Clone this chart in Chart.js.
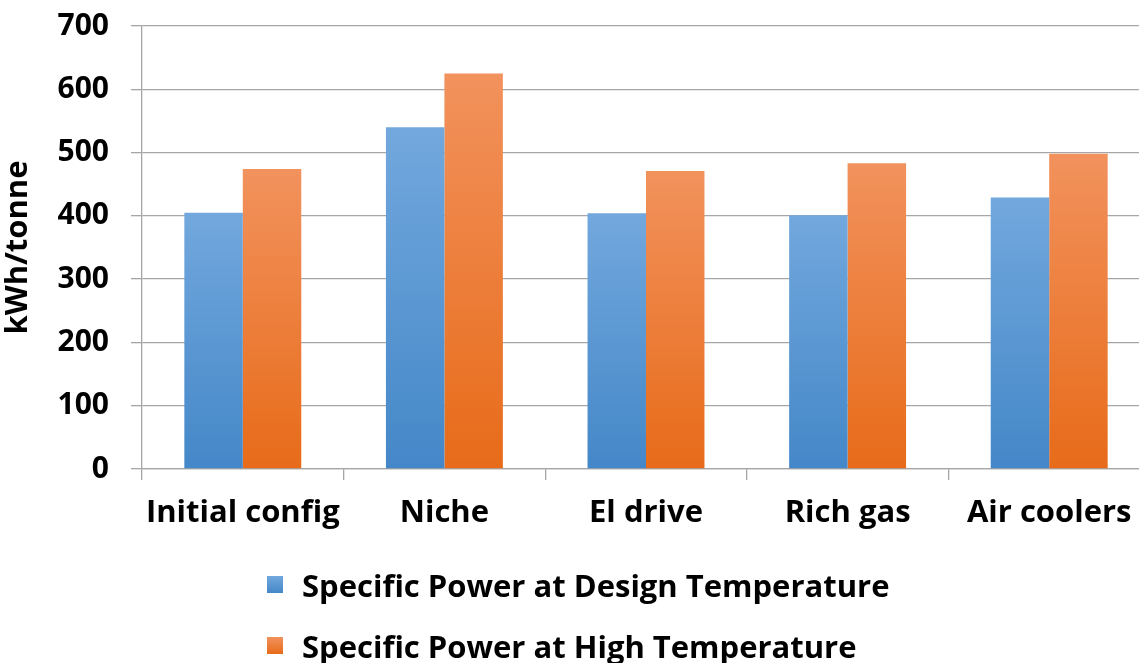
<!DOCTYPE html>
<html>
<head>
<meta charset="utf-8">
<script src="https://cdn.jsdelivr.net/npm/chart.js@4/dist/chart.umd.min.js"></script>
<style>
  html, body { margin: 0; padding: 0; background: #fff; overflow: hidden; }
  #wrap { position: relative; width: 1150px; height: 560px; }
  #legend { position: absolute; left: 267px; top: 554px; font-family: "Open Sans", sans-serif; font-weight: 700; font-size: 31px; color: #000; }
  .item { display: flex; align-items: center; height: 61px; }
  .box { width: 16px; height: 17px; margin-right: 19px; }
</style>
</head>
<body>
<div id="wrap"><canvas id="c" width="1150" height="560"></canvas></div>
<div id="legend"></div>
<script>
const categories = ['Initial config', 'Niche', 'El drive', 'Rich gas', 'Air coolers'];
const designTemp = [405, 540, 404, 401, 429];
const highTemp = [474, 625, 471, 483, 498];
const seriesNames = ['Specific Power at Design Temperature', 'Specific Power at High Temperature'];
const yTicks = [0, 100, 200, 300, 400, 500, 600, 700];

const palettes = [
  { top: '#72a8dd', bottom: '#4487c8' },
  { top: '#f2925d', bottom: '#e76b19' }
];

const FONT = '"Open Sans", sans-serif';

function barGradient(idx) {
  return (ctx) => {
    const chart = ctx.chart;
    if (!chart.chartArea || ctx.raw == null) return palettes[idx].bottom;
    const y = chart.scales.y;
    const top = y.getPixelForValue(ctx.raw);
    const bot = y.getPixelForValue(0);
    const g = chart.ctx.createLinearGradient(0, top, 0, bot);
    g.addColorStop(0, palettes[idx].top);
    g.addColorStop(1, palettes[idx].bottom);
    return g;
  };
}

const data = {
  labels: categories,
  datasets: [
    { label: seriesNames[0], data: designTemp, backgroundColor: barGradient(0) },
    { label: seriesNames[1], data: highTemp, backgroundColor: barGradient(1) }
  ]
};

new Chart(document.getElementById('c'), {
  type: 'bar',
  data,
  options: {
    responsive: false,
    animation: false,
    devicePixelRatio: 1,
    layout: { padding: { top: 26, right: 0, bottom: 0, left: 0 } },
    datasets: { bar: { categoryPercentage: 0.58, barPercentage: 1.0, borderWidth: 0 } },
    plugins: { legend: { display: false }, tooltip: { enabled: false } },
    scales: {
      x: {
        offset: true,
        grid: { display: true, drawOnChartArea: false, color: '#a6a6a6', lineWidth: 1.3, tickLength: 11, offset: true },
        border: { color: '#a6a6a6', width: 1.3 },
        ticks: { color: '#000', font: { family: FONT, weight: 'bold', size: 31 }, padding: 15, maxRotation: 0 },
        afterFit: (s) => { s.height = 91; s.paddingLeft = 0; s.paddingRight = 0; }
      },
      y: {
        min: 0, max: 700,
        afterBuildTicks: (s) => { s.ticks = yTicks.map(v => ({ value: v })); },
        grid: { color: '#a6a6a6', lineWidth: 1.3, tickLength: 11 },
        border: { color: '#a6a6a6', width: 1.3 },
        ticks: { color: '#000', font: { family: FONT, weight: 'bold', size: 30 }, padding: 22 },
        title: { display: true, text: 'kWh/tonne', color: '#000', font: { family: FONT, weight: 'bold', size: 31 }, padding: { top: 0, bottom: 0 } },
        afterFit: (s) => { s.width = 142; s.paddingTop = 0; s.paddingBottom = 0; }
      }
    }
  }
});

const legend = document.getElementById('legend');
seriesNames.forEach((name, i) => {
  const item = document.createElement('div');
  item.className = 'item';
  const box = document.createElement('span');
  box.className = 'box';
  box.style.background = `linear-gradient(${palettes[i].top}, ${palettes[i].bottom})`;
  const txt = document.createElement('span');
  txt.textContent = name;
  item.appendChild(box);
  item.appendChild(txt);
  legend.appendChild(item);
});
</script>
</body>
</html>
